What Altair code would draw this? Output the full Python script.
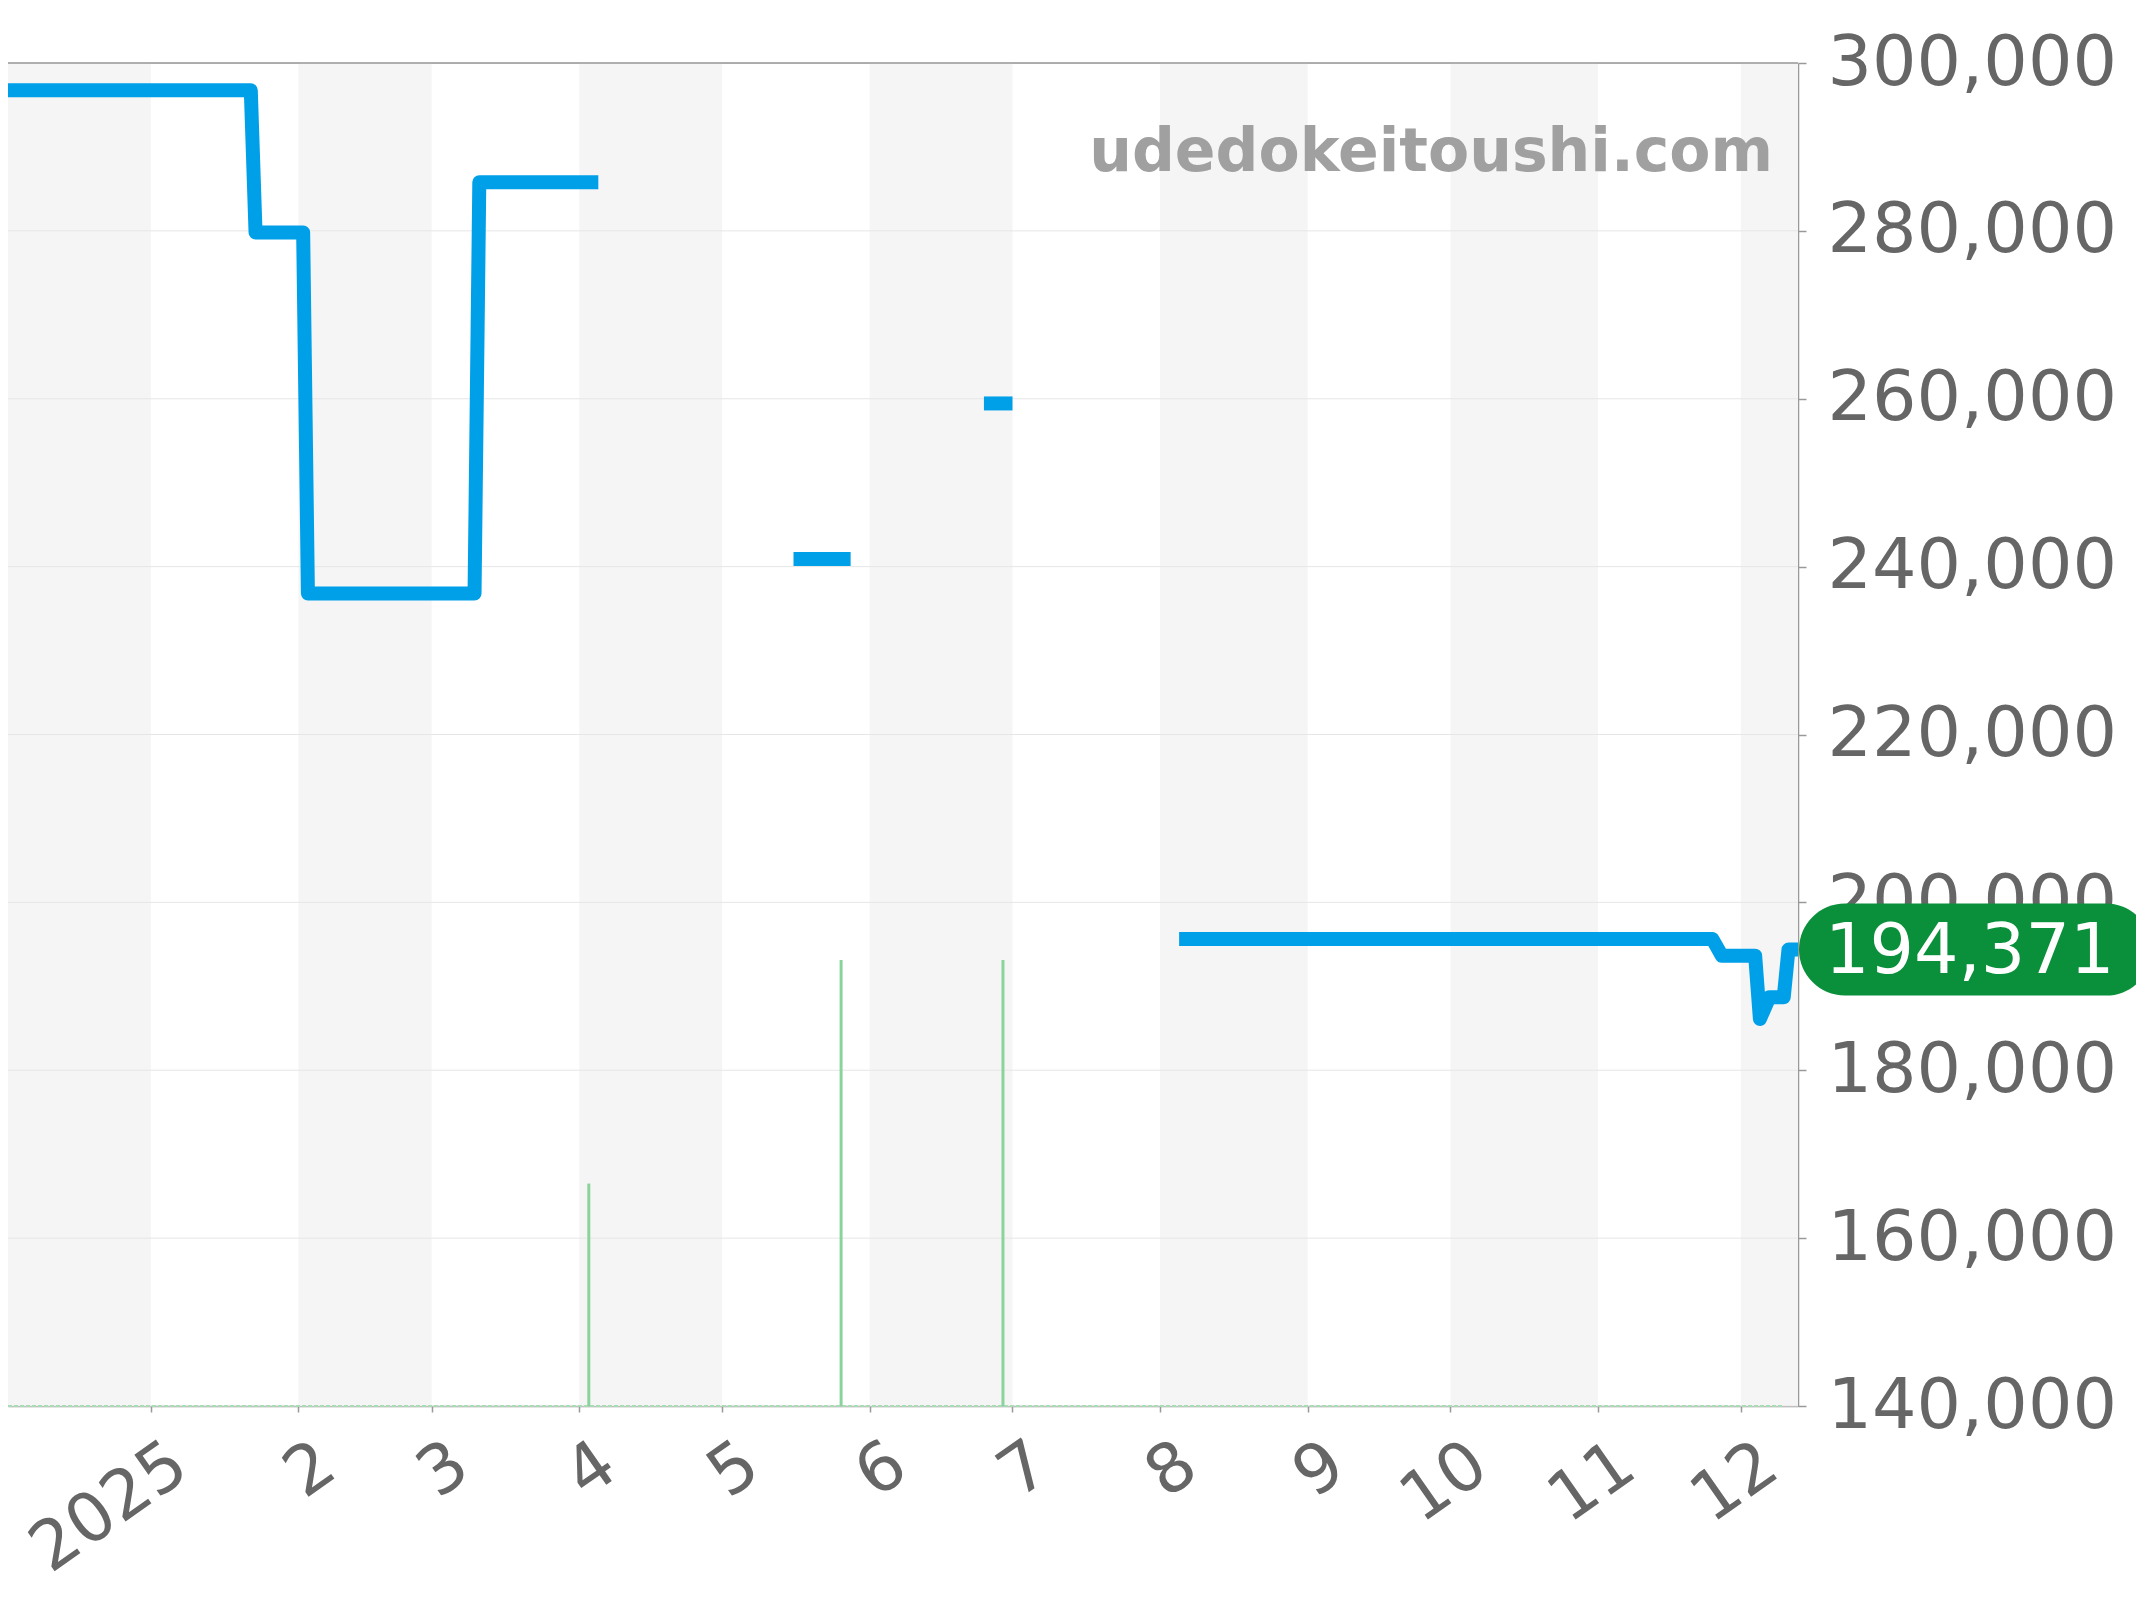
import altair as alt
import pandas as pd

# ---- price series (gaps split into segments) ----
seg_ids = [1]*8 + [2]*2 + [3]*2 + [4]*9
price_dates = [
    "2024-12-02", "2025-01-22", "2025-01-23", "2025-02-02", "2025-02-03", "2025-03-10", "2025-03-11", "2025-04-05",
    "2025-05-16", "2025-05-28",
    "2025-06-25", "2025-07-01",
    "2025-08-05", "2025-11-25", "2025-11-27", "2025-12-04", "2025-12-05", "2025-12-07", "2025-12-10", "2025-12-11", "2025-12-13",
]
price_values = [
    296750, 296750, 279800, 279800, 236800, 236800, 285800, 285800,
    240900, 240900,
    259440, 259440,
    195650, 195650, 193650, 193650, 186100, 188700, 188700, 194371, 194371,
]

# ---- volume-like green spikes ----
vol_dates = ["2025-04-03", "2025-05-26", "2025-06-29"]
vol_tops = [166500, 193130, 193130]

# ---- month background bands (shaded months) ----
band_starts = ["2024-12-01", "2025-02-01", "2025-04-01", "2025-06-01", "2025-08-01", "2025-10-01", "2025-12-01"]
band_ends = ["2025-01-01", "2025-03-01", "2025-05-01", "2025-07-01", "2025-09-01", "2025-11-01", "2026-01-01"]

y_ticks = [140000, 160000, 180000, 200000, 220000, 240000, 260000, 280000, 300000]
last_label = "194,371"
last_value = 194371
watermark = "udedokeitoushi.com"

W, H = 1790, 1343
FONT = "DejaVu Sans"

price_df = pd.DataFrame({"date": [d + "T00:00:00" for d in price_dates], "price": price_values, "seg": seg_ids})
vol_df = pd.DataFrame({"date": [d + "T00:00:00" for d in vol_dates], "top": vol_tops, "base": [140000]*len(vol_dates)})
band_df = pd.DataFrame({"start": [d + "T00:00:00" for d in band_starts], "end": [d + "T00:00:00" for d in band_ends]})
grid_df = pd.DataFrame({"v": y_ticks})
base_df = pd.DataFrame({"start": ["2024-12-02T00:00:00"], "end": ["2025-12-10T00:00:00"], "v": [140000]})
last_df = pd.DataFrame({"v": [last_value], "label": [last_label]})
one_df = pd.DataFrame({"a": [0]})

xscale = alt.Scale(domain=[alt.DateTime(year=2024, month=12, date=2), alt.DateTime(year=2025, month=12, date=13)])
yscale = alt.Scale(domain=[140000, 300000], nice=False, zero=False)

xaxis = alt.Axis(
    orient="bottom",
    tickCount={"interval": "month", "step": 1},
    labelExpr="month(datum.value) == 0 ? year(datum.value) : month(datum.value) + 1",
    labelAngle=-35, labelAlign="right", labelBaseline="top",
    labelFontSize=68, labelColor="#666666", labelFont=FONT,
    labelPadding=18, labelOffset=10,
    tickSize=6, tickColor="#999999", tickWidth=1.5,
    domainColor="#999999", domainWidth=1.5,
    grid=False, title=None, labelOverlap=False, labelLimit=0,
)
yaxis = alt.Axis(
    orient="right", values=y_ticks, format=",.0f",
    labelFontSize=70, labelColor="#666666", labelFont=FONT, labelPadding=21,
    tickSize=8, tickColor="#999999", tickWidth=1.5,
    domainColor="#999999", domainWidth=1.5,
    grid=False, title=None, labelLimit=0, labelOverlap=False,
)

bands = alt.Chart(band_df).mark_rect(color="#f5f5f5", clip=True).encode(
    x=alt.X("start:T", scale=xscale, axis=xaxis),
    x2="end:T",
    y=alt.value(0), y2=alt.value(H),
)

grid = alt.Chart(grid_df).mark_rule(color="#e6e6e6", strokeWidth=1).encode(
    y=alt.Y("v:Q", scale=yscale, axis=yaxis),
    x=alt.value(0), x2=alt.value(W),
)

baseline = alt.Chart(base_df).mark_rule(color="#a8dcb5", strokeWidth=2, strokeDash=[4, 2]).encode(
    x=alt.X("start:T", scale=xscale), x2="end:T",
    y=alt.Y("v:Q", scale=yscale),
)

vol = alt.Chart(vol_df).mark_rule(color="#8ad49c", strokeWidth=3).encode(
    x=alt.X("date:T", scale=xscale),
    y=alt.Y("base:Q", scale=yscale), y2="top:Q",
)

line = alt.Chart(price_df).mark_line(
    color="#00a0e9", strokeWidth=14, strokeJoin="round", strokeCap="butt", clip=True
).encode(
    x=alt.X("date:T", scale=xscale),
    y=alt.Y("price:Q", scale=yscale),
    detail="seg:N",
)

top_rule = alt.Chart(one_df).mark_rule(color="#999999", strokeWidth=1.5).encode(
    x=alt.value(0), x2=alt.value(W), y=alt.value(0),
)

pill = alt.Chart(last_df).mark_rect(
    color="#0a8f3b", cornerRadius=46, yOffset=-46, y2Offset=46
).encode(
    x=alt.value(W + 1), x2=alt.value(W + 354),
    y=alt.Y("v:Q", scale=yscale), y2="v:Q",
)

pill_text = alt.Chart(last_df).mark_text(
    color="white", fontSize=70, font=FONT, align="left", baseline="middle", dy=2
).encode(
    x=alt.value(W + 27),
    y=alt.Y("v:Q", scale=yscale),
    text="label:N",
)

wm = alt.Chart(one_df).mark_text(
    color="#a0a0a0", fontSize=60, font=FONT, fontWeight="bold", align="right", baseline="alphabetic"
).encode(
    x=alt.value(1765), y=alt.value(108), text=alt.value(watermark),
)

chart = alt.layer(bands, grid, baseline, vol, line, top_rule, pill, pill_text, wm).properties(
    width=W, height=H,
    autosize=alt.AutoSizeParams(type="none"),
    padding={"left": 0, "top": 55, "right": 338, "bottom": 186},
).configure_view(stroke=None).configure(background="white")

chart.save("out.html", embed_options={"renderer": "svg", "actions": False})
